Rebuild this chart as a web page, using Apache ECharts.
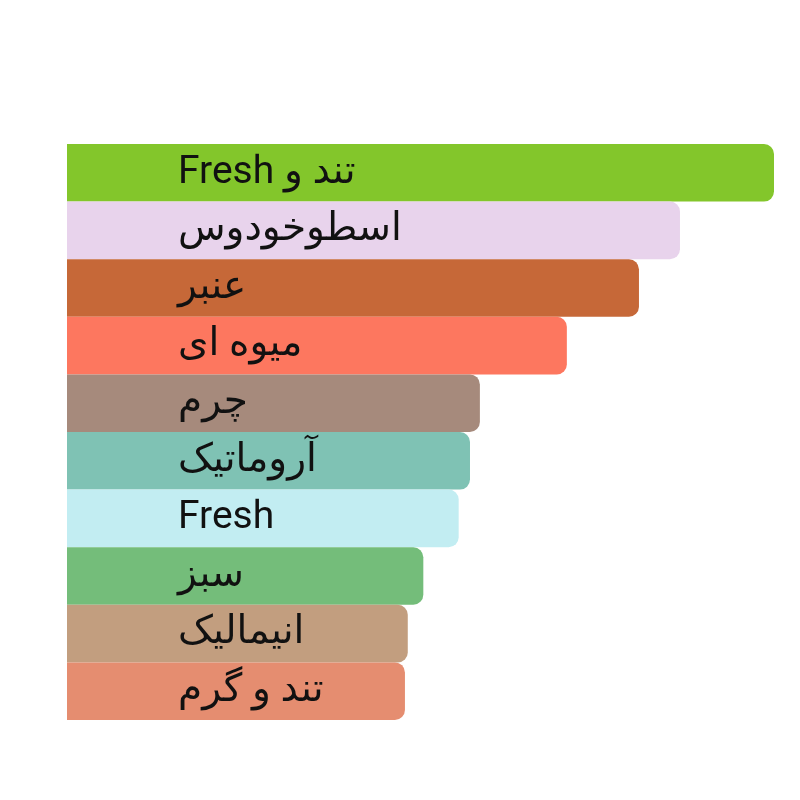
<!DOCTYPE html>
<html>
<head>
<meta charset="utf-8">
<script src="https://cdn.jsdelivr.net/npm/echarts@6/dist/echarts.min.js"></script>
<style>
  html, body { margin: 0; padding: 0; background: #fff; }
  #main { width: 800px; height: 800px; }
</style>
</head>
<body>
<div id="main"></div>
<script>
var categories = ['تند و Fresh', 'اسطوخودوس', 'عنبر', 'میوه ای', 'چرم', 'آروماتیک', 'Fresh', 'سبز', 'انیمالیک', 'تند و گرم'];
var values = [100, 86.7, 80.9, 70.7, 58.4, 57.0, 55.4, 50.4, 48.2, 47.8];
var colors = ['#83c62b', '#e8d3ec', '#c66838', '#fd775f', '#a68a7c', '#7fc2b4', '#c2edf2', '#74bd7a', '#c29e7f', '#e58d70'];

var myChart = echarts.init(document.getElementById('main'));

myChart.setOption({
    animation: false,
    grid: {
        left: 67,
        right: 26,
        top: 144,
        bottom: 80
    },
    xAxis: {
        type: 'value',
        min: 0,
        max: 100,
        show: false
    },
    yAxis: {
        type: 'category',
        data: categories,
        inverse: true,
        show: false
    },
    series: [{
        type: 'bar',
        barCategoryGap: '0%',
        data: values.map(function (v, i) {
            return { value: v, itemStyle: { color: colors[i] } };
        }),
        itemStyle: {
            borderRadius: [0, 10, 10, 0]
        },
        label: {
            show: true,
            position: [111, '50%'],
            align: 'left',
            verticalAlign: 'middle',
            // right-to-left embedding so mixed Persian/Latin labels read like the original
            formatter: function (p) { return '\u202B' + categories[p.dataIndex] + '\u202C'; },
            color: '#111',
            fontSize: 39,
            fontFamily: 'Roboto, "DejaVu Sans", sans-serif'
        }
    }]
});
</script>
</body>
</html>
